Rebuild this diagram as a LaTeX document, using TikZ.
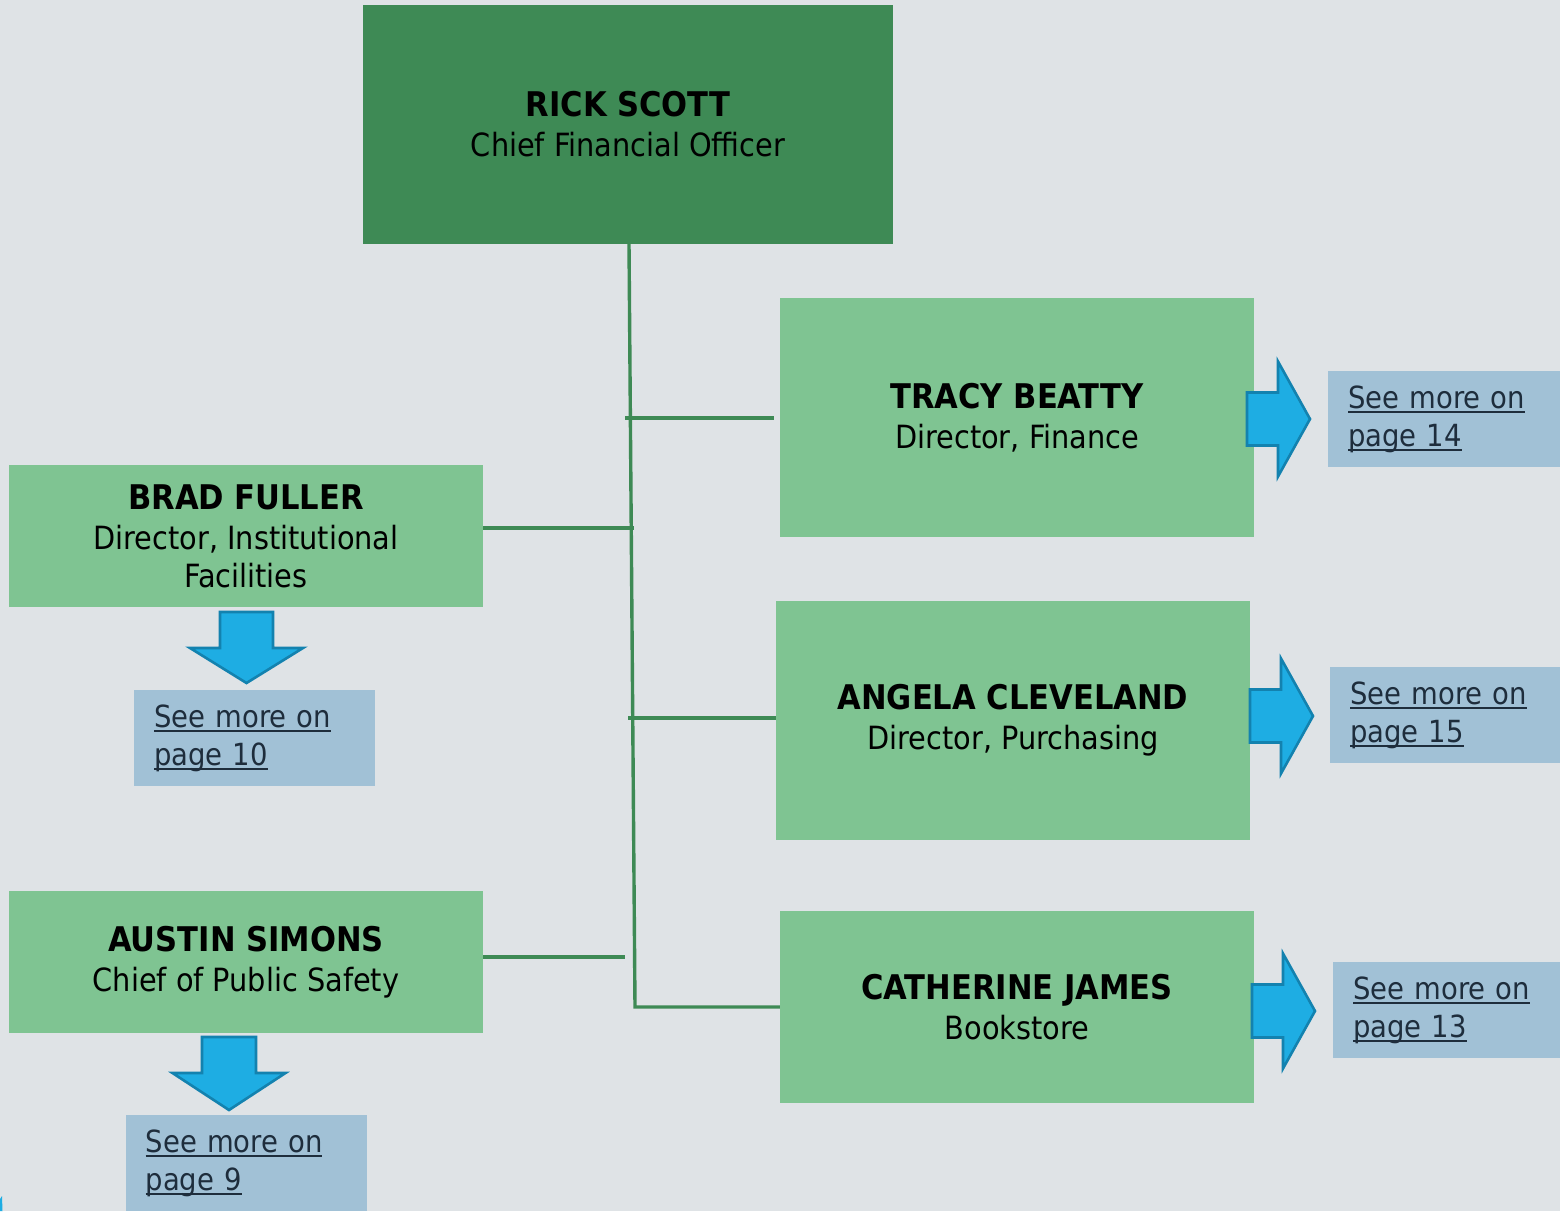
\documentclass[tikz,border=0pt]{standalone}
\usepackage{fontspec}
\setmainfont{DejaVu Sans Condensed}
\definecolor{pagebg}{RGB}{223,227,230}
\definecolor{ceogreen}{RGB}{62,138,85}
\definecolor{dirgreen}{RGB}{127,196,146}
\definecolor{linkblue}{RGB}{161,193,214}
\definecolor{linktext}{RGB}{30,45,60}
\definecolor{arrowfill}{RGB}{30,173,227}
\definecolor{arrowedge}{RGB}{19,130,175}
\newcommand\namefont{\fontsize{34}{40}\selectfont\bfseries}
\newcommand\rolefont{\fontsize{32}{38}\selectfont}
\newcommand\linkfont{\fontsize{30.5}{38}\selectfont}
% underline at a fixed depth below the baseline
\newsavebox\ulinkbox
\newcommand\ulink[1]{\leavevmode\sbox\ulinkbox{#1}\rlap{\rule[-4.5pt]{\wd\ulinkbox}{1.8pt}}\usebox\ulinkbox}
\pgfdeclarelayer{bgfill}
\pgfdeclarelayer{lines}
\pgfsetlayers{bgfill,lines,main}
\begin{document}
\begin{tikzpicture}[x=1pt,y=-1pt,
  person/.style={rectangle, fill=dirgreen, inner xsep=0pt, inner ysep=0pt,
    align=center, font=\rolefont, text=black, minimum width=474pt},
  ceo/.style={person, fill=ceogreen, minimum width=530pt, minimum height=239pt},
  linkbox/.style={rectangle, fill=linkblue, anchor=north west, align=left,
    font=\linkfont, text=linktext, inner xsep=20pt, inner ysep=0pt,
    minimum height=96pt},
  conn/.style={draw=ceogreen, line width=3.4pt},
  blockarrow/.style={fill=arrowfill, draw=arrowedge, line width=2.6pt, line join=miter}
]
\useasboundingbox (0,0) rectangle (1560,1211);
\begin{pgfonlayer}{bgfill}
  \fill[pagebg] (0,0) rectangle (1560,1211);
\end{pgfonlayer}

% people
\node[ceo] (rick) at (628,124.5) {{\namefont RICK SCOTT}\\[2pt] Chief Financial Officer};
\node[person, minimum height=239pt] (tracy) at (1017,417.5) {{\namefont TRACY BEATTY}\\[2pt] Director, Finance};
\node[person, minimum height=142pt] (brad) at (246,536) {{\namefont BRAD FULLER}\\[2pt] Director, Institutional\\ Facilities};
\node[person, minimum height=239pt] (angela) at (1013,720.5) {{\namefont ANGELA CLEVELAND}\\[2pt] Director, Purchasing};
\node[person, minimum height=142pt] (austin) at (246,962) {{\namefont AUSTIN SIMONS}\\[2pt] Chief of Public Safety};
\node[person, minimum height=192pt] (catherine) at (1017,1007) {{\namefont CATHERINE JAMES}\\[2pt] Bookstore};

% page references
\node[linkbox, text width=192pt] (p14) at (1328,371) {\ulink{See more on}\\\ulink{page 14}};
\node[linkbox, text width=190pt] (p15) at (1330,667) {\ulink{See more on}\\\ulink{page 15}};
\node[linkbox, text width=187pt] (p13) at (1333,962) {\ulink{See more on}\\\ulink{page 13}};
\node[linkbox, text width=201pt] (p10) at (134,690) {\ulink{See more on}\\\ulink{page 10}};
\node[linkbox, text width=202pt, inner xsep=19.5pt] (p9) at (126,1115) {\ulink{See more on}\\\ulink{page 9}};

% reporting lines
\coordinate (trunkend) at (635,1007);
\coordinate (jt) at (625,418);
\coordinate (jb) at (634,528);
\coordinate (ja) at (628,718);
\coordinate (js) at (625,957);
\begin{pgfonlayer}{lines}
  \draw[conn] ([xshift=1pt]rick.south) -- (trunkend) -- (catherine.west);
  \draw[conn, shorten >=6pt] (jt) -- (jt -| tracy.west);
  \draw[conn, shorten <=-2pt] (jb -| brad.east) -- (jb);
  \draw[conn] (ja) -- (ja -| angela.west);
  \draw[conn] (js -| austin.east) -- (js);
\end{pgfonlayer}

% block arrows pointing right
\foreach \sx/\sy in {1247/419, 1250/716, 1252/1011}{
  \draw[blockarrow, shift={(\sx,\sy)}]
    (0,-26.5) -- (31,-26.5) -- (31,-57.5) -- (63,0) -- (31,57.5) -- (31,26.5) -- (0,26.5) -- cycle;
}
% block arrows pointing down
\draw[blockarrow, shift={(246.5,612)}]
  (-26.5,0) -- (26.5,0) -- (26.5,36) -- (56.5,36) -- (0,71) -- (-56.5,36) -- (-26.5,36) -- cycle;
\draw[blockarrow, shift={(229,1037)}]
  (-27,0) -- (27,0) -- (27,36) -- (56.5,36) -- (0,73) -- (-56.5,36) -- (-27,36) -- cycle;

% sliver at the lower left edge
\fill[arrowfill] (0,1199) -- (2,1196) -- (2.5,1211) -- (0,1211) -- cycle;
\end{tikzpicture}
\end{document}
